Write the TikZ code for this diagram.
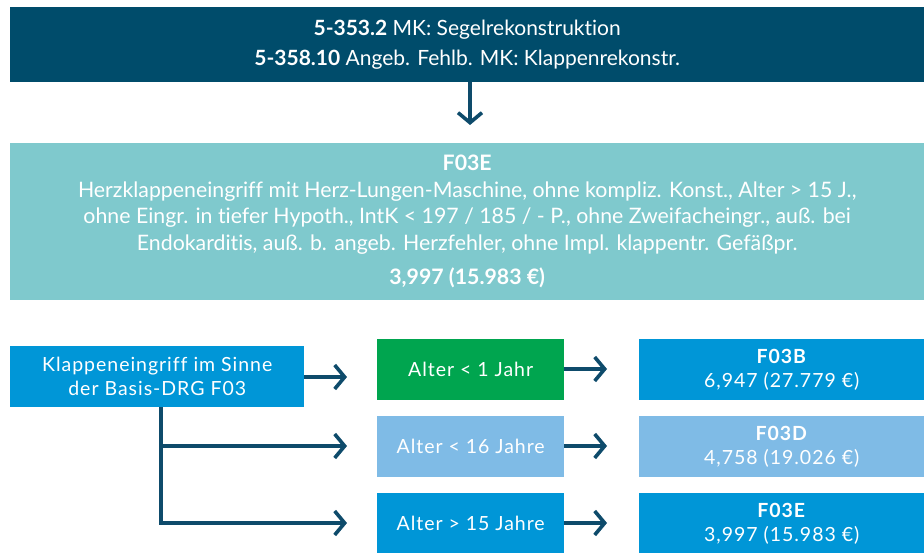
\documentclass[tikz,border=0pt]{standalone}
\usepackage{fontspec}
\setmainfont{Lato}[Ligatures=NoCommon]
\newfontfamily\spacedfont{Lato}[LetterSpace=5,Ligatures=NoCommon]
\usetikzlibrary{arrows.meta}
\definecolor{navy}{HTML}{004C6B}
\definecolor{tealbg}{HTML}{7FC9CD}
\definecolor{greenbg}{HTML}{00A54F}
\definecolor{lightbg}{HTML}{7FBBE6}
\definecolor{bluebg}{HTML}{0096D7}
\definecolor{arrowc}{HTML}{0E4B6B}
\tikzset{
  panel/.style={draw=none, text=white, inner sep=0pt, align=center, anchor=north west},
  link/.style={draw=arrowc, line width=3.6pt, -{Straight Barb[length=10pt,width=24pt]}},
  trunk/.style={draw=arrowc, line width=3.6pt},
  small/.style={font=\spacedfont\fontsize{19.5}{24}\selectfont}
}
\begin{document}
\begin{tikzpicture}[x=1pt,y=-1pt]
\useasboundingbox (0,0) rectangle (924,552);
% header with the procedure codes
\node[panel, fill=navy, minimum width=914pt, minimum height=75pt,
      font=\fontsize{21}{30}\selectfont] (ops) at (10,7)
  {\textbf{5-353.2} MK: Segelrekonstruktion\\ \textbf{5-358.10} Angeb. Fehlb. MK: Klappenrekonstr.};
% base DRG
\node[panel, fill=tealbg, minimum width=914pt, minimum height=157pt,
      font=\fontsize{21.3}{26.5}\selectfont] (drg) at (10,143)
  {\textbf{F03E}\\
   Herzklappeneingriff mit Herz-Lungen-Maschine, ohne kompliz. Konst., Alter > 15 J.,\\
   ohne Eingr. in tiefer Hypoth., IntK < 197 / 185 / - P., ohne Zweifacheingr., auß. bei\\
   Endokarditis, auß. b. angeb. Herzfehler, ohne Impl. klappentr. Gefäßpr.\\[8pt]
   \textbf{3,997 (15.983 €)}};
\coordinate (drgtip) at (470,125);
\draw[link] (ops.south -| drgtip) -- (drgtip);

% condition
\node[panel, fill=bluebg, minimum width=294pt, minimum height=61pt, small] (base) at (10,346)
  {Klappeneingriff im Sinne\\der Basis-DRG F03};

% age splits
\node[panel, fill=greenbg, minimum width=187pt, minimum height=61pt, small] (a1) at (377,339) {Alter < 1 Jahr};
\node[panel, fill=lightbg, minimum width=187pt, minimum height=61pt, small] (a2) at (377,416) {Alter < 16 Jahre};
\node[panel, fill=bluebg, minimum width=187pt, minimum height=61pt, small] (a3) at (377,493) {Alter > 15 Jahre};

% resulting DRGs
\node[panel, fill=bluebg, minimum width=285pt, minimum height=61pt, small] (r1) at (639,339) {\textbf{F03B}\\6,947 (27.779 €)};
\node[panel, fill=lightbg, minimum width=285pt, minimum height=61pt, small] (r2) at (639,416) {\textbf{F03D}\\4,758 (19.026 €)};
\node[panel, fill=bluebg, minimum width=285pt, minimum height=61pt, small] (r3) at (639,493) {\textbf{F03E}\\3,997 (15.983 €)};

% branching connectors
\coordinate (fork) at (161,407);
\coordinate (e1) at (347,377);
\coordinate (e2) at (347,446);
\coordinate (e3) at (347,523);
\draw[link] (base.east |- e1) -- (e1);
\draw[trunk] (fork) -- (fork |- e3);
\draw[link] (fork |- e2) -- (e2);
\draw[link] ([xshift=-1.8pt]fork |- e3) -- (e3);

\coordinate (f1) at (607,369);
\coordinate (f2) at (607,446);
\coordinate (f3) at (607,523);
\draw[link] (a1.east |- f1) -- (f1);
\draw[link] (a2.east |- f2) -- (f2);
\draw[link] (a3.east |- f3) -- (f3);
\end{tikzpicture}
\end{document}
